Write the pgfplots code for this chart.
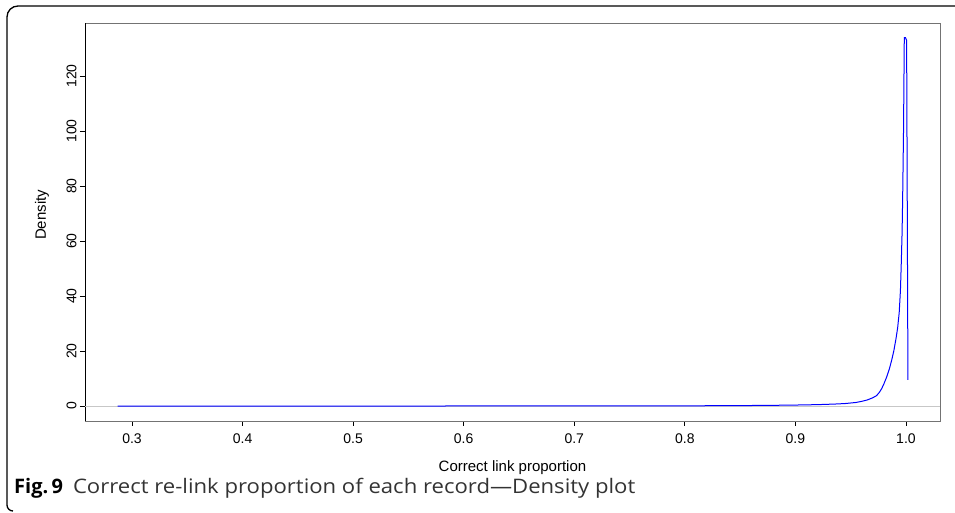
\documentclass[border=0pt]{standalone}
\usepackage{pgfplots}
\pgfplotsset{compat=1.18}
\usepackage{graphicx}
\usepackage{fontspec}
\setmainfont{Liberation Sans}
\newfontfamily\capfont{Open Sans}
\begin{document}
\begin{tikzpicture}[x=1pt,y=1pt]
\useasboundingbox (0,0) rectangle (955,513);
% outer frame
\draw[line width=1.3pt,black] (955,507) -- (18,507) arc[start angle=90,end angle=180,radius=11] -- (7,8) arc[start angle=180,end angle=270,radius=6];
\begin{axis}[
  at={(85pt,92pt)}, anchor=south west,
  scale only axis, width=855pt, height=398pt,
  xmin=0.2575, xmax=1.0308, ymin=-5.45, ymax=139.3,
  xtick={0.3,0.4,0.5,0.6,0.7,0.8,0.9,1.0},
  xticklabels={0.3,0.4,0.5,0.6,0.7,0.8,0.9,1.0},
  ytick={0,20,40,60,80,100,120},
  yticklabels={0,20,40,60,80,100,120},
  tick align=outside, major tick length=5pt,
  tick style={black, line width=0.8pt},
  xtick pos=bottom, ytick pos=left,
  axis line style={black!55, line width=0.8pt},
  tick label style={font=\fontsize{14}{16}\selectfont},
  yticklabel style={rotate=90, anchor=south, xshift=0pt},
  xticklabel style={yshift=-4pt},
  xlabel={Correct link proportion},
  ylabel={Density},
  label style={font=\fontsize{15}{17}\selectfont},
  xlabel style={at={(axis description cs:0.5,0)}, anchor=base, yshift=-51pt},
  ylabel style={at={(axis description cs:-0.038,0.518)}, anchor=south},
  clip=true,
]
\draw[black, line width=0.9pt] (rel axis cs:0,0) -- (rel axis cs:1,0);
\draw[black, line width=0.9pt] (rel axis cs:0,0) -- (rel axis cs:0,1);
\addplot[black!22, line width=0.8pt] coordinates {(0.2575,0) (1.0308,0)};
\addplot[blue, line width=1pt] coordinates {
(0.287,0) (0.5,0) (0.7,0.01) (0.8,0.05) (0.82,0.1) (0.85,0.15) (0.88,0.25)
(0.9,0.35) (0.92,0.5) (0.935,0.7) (0.945,0.9) (0.955,1.3) (0.96,1.7)
(0.965,2.2) (0.97,3.0) (0.9735,3.8) (0.976,5.0) (0.978,6.3) (0.980,8.0)
(0.9825,10.5) (0.985,13.5) (0.9871,16.7) (0.989,20) (0.991,24.5)
(0.9925,28.5) (0.9939,34) (0.995,42) (0.9957,51) (0.9965,63) (0.997,75)
(0.9978,100) (0.9985,134) (0.9995,134) (1.0006,133) (1.0018,9.5)
};
\end{axis}
\node[anchor=base west, inner sep=0pt] at (14,19) {\capfont\fontsize{20}{22}\selectfont\textbf{Fig.\,9}\hspace{10pt}\textcolor{black!80}{\scalebox{1.105}[1]{Correct re-link proportion of each record—Density plot}}};
\end{tikzpicture}
\end{document}
